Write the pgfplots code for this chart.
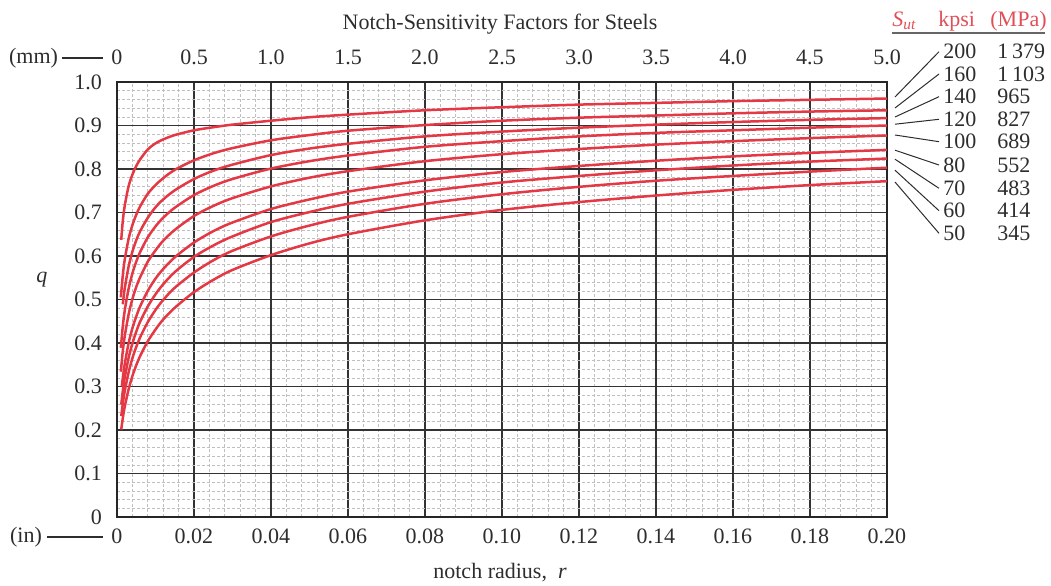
\documentclass[border=0pt]{standalone}
\usepackage{fontspec}
\setmainfont{Liberation Serif}
\usepackage{pgfplots}
\pgfplotsset{compat=1.18}
\definecolor{curve}{RGB}{228,56,68}
\definecolor{hdr}{RGB}{226,78,88}
\definecolor{txt}{RGB}{45,45,45}
\begin{document}
\begin{tikzpicture}[font=\fontsize{11}{13}\selectfont]
\useasboundingbox (-58.5pt,-34pt) rectangle (467pt,258.5pt);
\begin{axis}[
  scale only axis, width=385pt, height=217.5pt,
  xmin=0, xmax=0.2, ymin=0, ymax=1,
  xtick={0,0.02,0.04,0.06,0.08,0.10,0.12,0.14,0.16,0.18,0.20},
  xticklabels={0,0.02,0.04,0.06,0.08,0.10,0.12,0.14,0.16,0.18,0.20},
  ytick={0,0.1,0.2,0.3,0.4,0.5,0.6,0.7,0.8,0.9,1.0},
  yticklabels={0,0.1,0.2,0.3,0.4,0.5,0.6,0.7,0.8,0.9,1.0},
  minor x tick num=4, minor y tick num=4,
  grid=both,
  major grid style={black!80, line width=0.65pt},
  minor grid style={gray!50, line width=0.3pt, dash pattern=on 1.5pt off 1pt},
  axis line style={black!85, line width=1.2pt},
  major tick length=0pt, minor tick length=0pt,
  tick style={draw=none},
  ticklabel style={text=txt},
  xticklabel style={yshift=-2.5pt},
  yticklabel style={xshift=-4pt},
]
\addplot[curve, line width=1.25pt, smooth] coordinates {(0.0011,0.637)(0.0015,0.680)(0.002,0.715)(0.003,0.760)(0.004,0.787)(0.005,0.807)(0.006,0.822)(0.008,0.845)(0.010,0.859)(0.012,0.868)(0.015,0.878)(0.020,0.889)(0.025,0.896)(0.030,0.902)(0.040,0.911)(0.050,0.919)(0.060,0.925)(0.080,0.935)(0.100,0.942)(0.120,0.948)(0.140,0.952)(0.160,0.956)(0.180,0.959)(0.200,0.962)};
\addplot[curve, line width=1.25pt, smooth] coordinates {(0.001,0.505)(0.0015,0.555)(0.002,0.591)(0.003,0.639)(0.004,0.671)(0.005,0.695)(0.006,0.714)(0.008,0.743)(0.010,0.763)(0.012,0.779)(0.015,0.798)(0.020,0.820)(0.025,0.836)(0.030,0.848)(0.040,0.866)(0.050,0.878)(0.060,0.888)(0.080,0.901)(0.100,0.911)(0.120,0.918)(0.140,0.923)(0.160,0.928)(0.180,0.932)(0.200,0.935)};
\addplot[curve, line width=1.25pt, smooth] coordinates {(0.0015,0.489)(0.002,0.525)(0.003,0.575)(0.004,0.610)(0.005,0.636)(0.006,0.657)(0.008,0.688)(0.010,0.712)(0.012,0.730)(0.015,0.751)(0.020,0.777)(0.025,0.796)(0.030,0.810)(0.040,0.832)(0.050,0.847)(0.060,0.858)(0.080,0.875)(0.100,0.886)(0.120,0.895)(0.140,0.902)(0.160,0.908)(0.180,0.913)(0.200,0.917)};
\addplot[curve, line width=1.25pt, smooth] coordinates {(0.001,0.389)(0.0015,0.438)(0.002,0.474)(0.003,0.524)(0.004,0.560)(0.005,0.587)(0.006,0.609)(0.008,0.643)(0.010,0.668)(0.012,0.688)(0.015,0.711)(0.020,0.740)(0.025,0.761)(0.030,0.777)(0.040,0.801)(0.050,0.818)(0.060,0.831)(0.080,0.851)(0.100,0.864)(0.120,0.875)(0.140,0.883)(0.160,0.889)(0.180,0.895)(0.200,0.900)};
\addplot[curve, line width=1.25pt, smooth] coordinates {(0.001,0.334)(0.0015,0.381)(0.002,0.415)(0.003,0.465)(0.004,0.501)(0.005,0.529)(0.006,0.551)(0.008,0.587)(0.010,0.613)(0.012,0.635)(0.015,0.660)(0.020,0.692)(0.025,0.715)(0.030,0.733)(0.040,0.760)(0.050,0.780)(0.060,0.795)(0.080,0.818)(0.100,0.834)(0.120,0.846)(0.140,0.856)(0.160,0.864)(0.180,0.871)(0.200,0.877)};
\addplot[curve, line width=1.25pt, smooth] coordinates {(0.00125,0.300)(0.0015,0.319)(0.002,0.351)(0.003,0.399)(0.004,0.434)(0.005,0.461)(0.006,0.484)(0.008,0.520)(0.010,0.548)(0.012,0.570)(0.015,0.597)(0.020,0.631)(0.025,0.657)(0.030,0.677)(0.040,0.708)(0.050,0.730)(0.060,0.748)(0.080,0.774)(0.100,0.793)(0.120,0.807)(0.140,0.819)(0.160,0.829)(0.180,0.837)(0.200,0.844)};
\addplot[curve, line width=1.25pt, smooth] coordinates {(0.0011,0.258)(0.0015,0.289)(0.002,0.320)(0.003,0.365)(0.004,0.399)(0.005,0.426)(0.006,0.449)(0.008,0.484)(0.010,0.512)(0.012,0.535)(0.015,0.563)(0.020,0.598)(0.025,0.624)(0.030,0.645)(0.040,0.678)(0.050,0.701)(0.060,0.720)(0.080,0.748)(0.100,0.769)(0.120,0.784)(0.140,0.797)(0.160,0.808)(0.180,0.817)(0.200,0.824)};
\addplot[curve, line width=1.25pt, smooth] coordinates {(0.0011,0.232)(0.0015,0.260)(0.002,0.289)(0.003,0.332)(0.004,0.365)(0.005,0.391)(0.006,0.413)(0.008,0.448)(0.010,0.476)(0.012,0.499)(0.015,0.527)(0.020,0.562)(0.025,0.590)(0.030,0.612)(0.040,0.645)(0.050,0.670)(0.060,0.690)(0.080,0.720)(0.100,0.742)(0.120,0.759)(0.140,0.773)(0.160,0.784)(0.180,0.794)(0.200,0.803)};
\addplot[curve, line width=1.25pt, smooth] coordinates {(0.0011,0.201)(0.0015,0.227)(0.002,0.253)(0.003,0.293)(0.004,0.324)(0.005,0.349)(0.006,0.370)(0.008,0.404)(0.010,0.431)(0.012,0.454)(0.015,0.481)(0.020,0.517)(0.025,0.545)(0.030,0.568)(0.040,0.602)(0.050,0.629)(0.060,0.650)(0.080,0.682)(0.100,0.706)(0.120,0.724)(0.140,0.739)(0.160,0.752)(0.180,0.763)(0.200,0.772)};
\end{axis}
% top (mm) scale
\begin{axis}[
  scale only axis, width=385pt, height=217.5pt,
  xmin=0, xmax=0.2, ymin=0, ymax=1,
  axis x line*=top, axis y line=none,
  axis line style={draw=none},
  xtick={0,0.02,0.04,0.06,0.08,0.10,0.12,0.14,0.16,0.18,0.20},
  xticklabels={0,0.5,1.0,1.5,2.0,2.5,3.0,3.5,4.0,4.5,5.0},
  major tick length=0pt, tick style={draw=none},
  ticklabel style={text=txt},
  xticklabel style={yshift=5pt},
]
\addplot[draw=none] coordinates {(0,0)};
\end{axis}
% annotations
\node[text=txt] at (191.5pt,246.5pt) {Notch-Sensitivity Factors for Steels};
\node[text=txt] at (191.5pt,-28pt) {notch radius,~ \textit{r}};
\node[text=txt] at (-37.5pt,118.5pt) {\textit{q}};
\node[text=txt] at (-41.75pt,229.5pt) {(mm)};
\draw[txt, line width=0.6pt] (-27.5pt,229.5pt) -- (-7pt,229.5pt);
\node[text=txt] at (-45.5pt,-10pt) {(in)};
\draw[txt, line width=0.6pt] (-35pt,-10pt) -- (-7pt,-10pt);
% legend table
\node[anchor=west, inner sep=0pt, text=hdr] at (387.5pt,248pt) {\textit{S}\textsubscript{\textit{ut}}};
\node[anchor=west, inner sep=0pt, text=hdr] at (410.5pt,248pt) {kpsi};
\node[anchor=west, inner sep=0pt, text=hdr] at (436.5pt,248pt) {(MPa)};
\draw[gray!80!black, line width=0.8pt] (387.5pt,242pt) -- (464pt,242pt);
\foreach \k/\m/\y/\ys in {200/1\,379/232.65/210.0, 160/1\,103/221.5/204.5, 140/965/210.15/200.0, 120/827/198.85/196.4, 100/689/187.65/191.0, 80/552/176/183.4, 70/483/164.35/178.9, 60/414/153.15/173.4, 50/345/141.85/167.5}{
  \node[anchor=west, inner sep=0pt, text=txt] at (413pt,\y pt) {\k};
  \node[anchor=west, inner sep=0pt, text=txt] at (440pt,\y pt) {\m};
  \draw[txt, line width=0.5pt] (389pt,\ys pt) -- (411pt,\y pt);
}
\end{tikzpicture}
\end{document}
